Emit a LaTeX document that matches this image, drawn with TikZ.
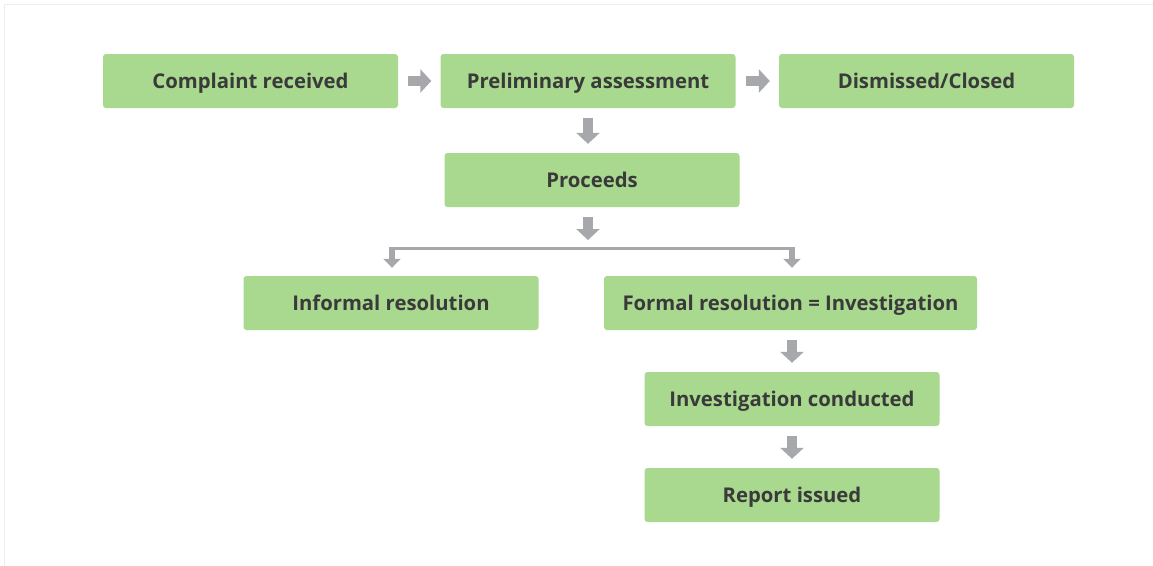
\documentclass[tikz,border=0pt]{standalone}
\usepackage{fontspec}
\setmainfont{Open Sans}
\usetikzlibrary{arrows.meta}
\definecolor{boxgreen}{HTML}{A8D98F}
\definecolor{arrowgray}{HTML}{A7A8AB}
\definecolor{txtgray}{HTML}{3A3A3A}
\definecolor{framegray}{HTML}{EDEDED}
\tikzset{
  stepbox/.style={fill=boxgreen, rounded corners=3pt, minimum width=295pt, minimum height=54pt,
    inner sep=0pt, text height=14.5pt, text depth=0pt, text=txtgray,
    font=\fontsize{20.3}{24}\selectfont\bfseries},
  blockarrow/.style={draw=arrowgray, line width=10pt,
    -{Triangle[width=23pt,length=11pt]}, shorten <=10pt, shorten >=9pt},
  smallarrow/.style={draw=arrowgray, line width=6pt,
    -{Triangle[width=17pt,length=9pt]}},
  branchline/.style={draw=arrowgray, line width=3pt}
}
\begin{document}
\begin{tikzpicture}[x=1pt,y=-1pt]
\clip (0,0) rectangle (1153,565);
\fill[white] (0,0) rectangle (1153,565);
\draw[framegray, line width=1.5pt] (4.5,580) |- (1170,4.5);

\node[stepbox] (complaint) at (250.5,81) {Complaint received};
\node[stepbox] (prelim) at (588,81) {Preliminary assessment};
\node[stepbox] (dismissed) at (926.5,81) {Dismissed/Closed};
\node[stepbox] (proceeds) at (592,180) {Proceeds};
\node[stepbox] (informal) at (391,303) {Informal resolution};
\node[stepbox, minimum width=373pt] (formal) at (790.5,303) {Formal resolution = Investigation};
\node[stepbox] (conducted) at (792,399) {Investigation conducted};
\node[stepbox] (report) at (792,495) {Report issued};

\coordinate (br) at (588,248);
\coordinate (brL) at (392,248);
\coordinate (brR) at (792,248);

\draw[blockarrow] (complaint) -- (prelim);
\draw[blockarrow] (prelim) -- (dismissed);
\draw[blockarrow] (prelim.south) -- (prelim.south |- proceeds.north);
\draw[blockarrow, shorten >=8pt] (proceeds.south -| br) -- (br);
\draw[branchline] (brL) -- (brR);
\draw[smallarrow] ([yshift=1.5pt]brL) -- ([yshift=8pt]brL |- informal.north);
\draw[smallarrow] ([yshift=1.5pt]brR) -- ([yshift=8pt]brR |- formal.north);
\draw[blockarrow] (formal.south -| conducted) -- (conducted);
\draw[blockarrow] (conducted) -- (report);
\end{tikzpicture}
\end{document}
